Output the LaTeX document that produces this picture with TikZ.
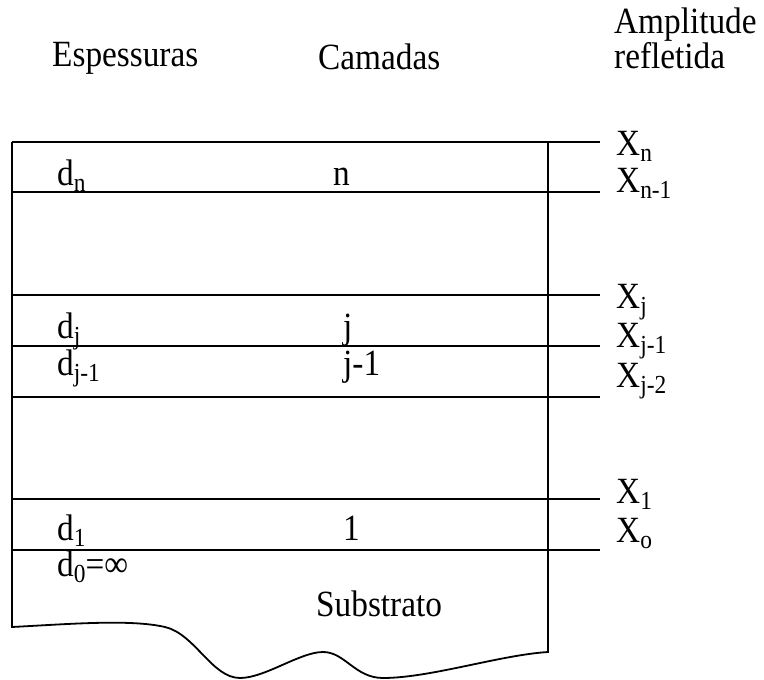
\documentclass[tikz,border=0pt]{standalone}
\usepackage{fontspec}
\setmainfont{Liberation Serif}[FakeStretch=0.9]
\newcommand\lowsub[1]{\raisebox{-6pt}{\fontsize{26}{28}\selectfont #1}}
\begin{document}
\begin{tikzpicture}[x=1pt,y=-1pt,
  lbl/.style={anchor=base west, inner sep=0pt, font=\fontsize{37}{42}\selectfont},
  edge/.style={line width=1.8pt, line join=miter}]
\useasboundingbox (0,0) rectangle (764,680);

% column headings
\node[lbl] (hEsp) at (52,66) {Espessuras};
\node[lbl] (hCam) at (318,69) {Camadas};
\node[lbl] (hAmp) at (614,33) {Amplitude};
\node[lbl] (hRef) at (614,68) {refletida};

% sample outline with broken substrate bottom
\draw[edge] (548,142) -- (548,652)
  .. controls (500,655) and (430,678) .. (383,678)
  .. controls (355,678) and (345,652) .. (323,652)
  .. controls (300,652) and (265,678) .. (240,678)
  .. controls (212,678) and (195,634) .. (165,627)
  .. controls (130,619) and (70,624) .. (12,627)
  -- (12,142);

% interfaces
\foreach \yy in {142,192,295,346,397,499,550}
  \draw[edge] (12,\yy) -- (600,\yy);

% reflected amplitudes
\node[lbl] (xn)  at (616,155) {X\lowsub{n}};
\node[lbl] (xn1) at (616,192) {X\lowsub{n-1}};
\node[lbl] (xj)  at (616,308) {X\lowsub{j}};
\node[lbl] (xj1) at (616,347) {X\lowsub{j-1}};
\node[lbl] (xj2) at (616,387) {X\lowsub{j-2}};
\node[lbl] (x1)  at (616,503) {X\lowsub{1}};
\node[lbl] (x0)  at (616,542) {X\lowsub{o}};

% thicknesses
\node[lbl] (dn)  at (57,185) {d\lowsub{n}};
\node[lbl] (dj)  at (57,338) {d\lowsub{j}};
\node[lbl] (dj1) at (57,375) {d\lowsub{j-1}};
\node[lbl] (d1)  at (57,540) {d\lowsub{1}};
\node[lbl] (d0)  at (57,576) {d\lowsub{0}=∞};

% layers
\node[lbl] (ln)  at (333,185) {n};
\node[lbl] (lj)  at (343,338) {j};
\node[lbl] (lj1) at (343,375) {j-1};
\node[lbl] (l1)  at (343,540) {1};
\node[lbl] (sub) at (316,616) {Substrato};
\end{tikzpicture}
\end{document}
